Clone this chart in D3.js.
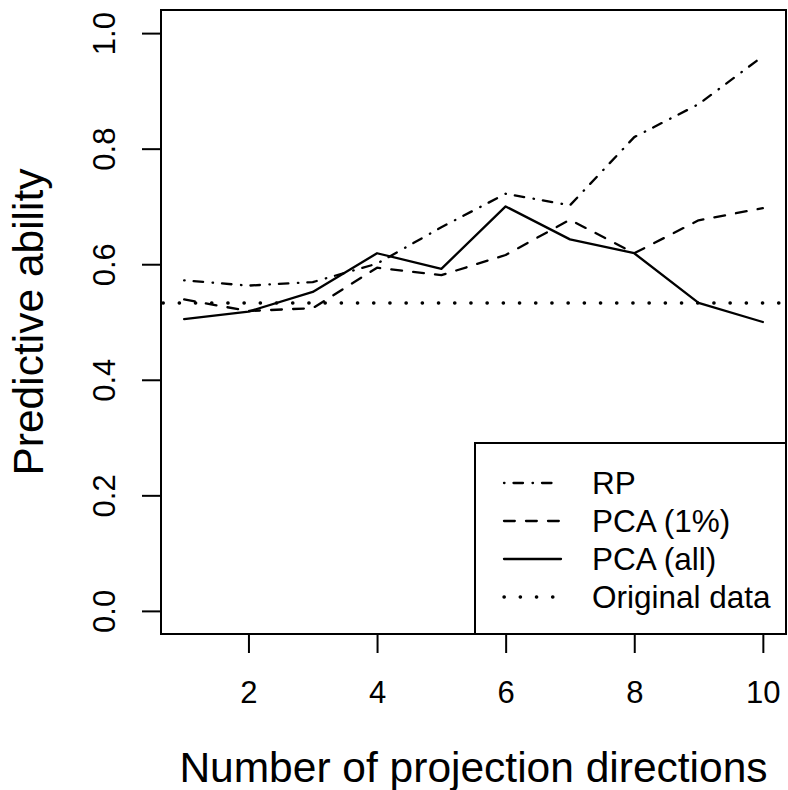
<!DOCTYPE html>
<html>
<head>
<meta charset="utf-8">
<script src="https://cdn.jsdelivr.net/npm/d3@7"></script>
<style>
  body { margin: 0; background: #fff; }
  text { font-family: "Liberation Sans", Arial, sans-serif; fill: #000; }
</style>
</head>
<body>
<div id="chart"></div>
<script>
// data
const directions = [1, 2, 3, 4, 5, 6, 7, 8, 9, 10];
const rpValues = [0.572, 0.563, 0.569, 0.601, 0.664, 0.722, 0.702, 0.820, 0.877, 0.960];
const pca1Values = [0.539, 0.519, 0.524, 0.594, 0.581, 0.616, 0.677, 0.619, 0.676, 0.697];
const pcaAllValues = [0.505, 0.518, 0.552, 0.619, 0.592, 0.700, 0.643, 0.619, 0.533, 0.500];
const originalValue = 0.533;
const xTicks = [2, 4, 6, 8, 10];
const yTicks = [0, 0.2, 0.4, 0.6, 0.8, 1.0];
const legendLabels = ['RP', 'PCA (1%)', 'PCA (all)', 'Original data'];

const W = 788, H = 790;
// plot box (window.top is reserved, so other names)
const boxL = 161, boxR = 786, boxT = 10, boxB = 634;

// line styles (dash patterns)
const dashRP = '0.5,9,9.5,9.5';
const dashPCA1 = '10.8,11.2';
const dashOrig = '0.3,15.9';
const lw = 2.3;
const lwDot = 3.4;

const svg = d3.select('#chart').append('svg')
    .attr('width', W)
    .attr('height', H);

const x = d3.scaleLinear().domain([0.64, 10.36]).range([boxL, boxR]);
const y = d3.scaleLinear().domain([-0.04, 1.04]).range([boxB, boxT]);

//x axis
const xAxis = svg.append('g')
    .attr('transform', `translate(0,${boxB})`)
    .call(d3.axisBottom(x).tickValues(xTicks).tickSize(19).tickFormat(d3.format('d')));
xAxis.select('.domain').remove();
xAxis.selectAll('line').attr('stroke', '#000').attr('stroke-width', 2);
xAxis.selectAll('text')
    .attr('y', 69)
    .attr('dy', null)
    .style('font-size', '31px')
    .attr('fill', '#000');

//y axis, labels rotated like R
const yAxis = svg.append('g')
    .attr('transform', `translate(${boxL},0)`)
    .call(d3.axisLeft(y).tickValues(yTicks).tickSize(19).tickFormat(d3.format('.1f')));
yAxis.select('.domain').remove();
yAxis.selectAll('line').attr('stroke', '#000').attr('stroke-width', 2);
yAxis.selectAll('text')
    .attr('x', null)
    .attr('dy', null)
    .attr('text-anchor', 'middle')
    .attr('transform', `translate(${115 - boxL},0) rotate(-90)`)
    .style('font-size', '31px')
    .attr('fill', '#000');

// axis titles
svg.append('text')
    .attr('x', (boxL + boxR) / 2)
    .attr('y', 782)
    .attr('text-anchor', 'middle')
    .style('font-size', '42.5px')
    .text('Number of projection directions');

svg.append('text')
    .attr('transform', `translate(43,${(boxT + boxB) / 2}) rotate(-90)`)
    .attr('text-anchor', 'middle')
    .style('font-size', '42.5px')
    .text('Predictive ability');

// plot area clip
svg.append('clipPath').attr('id', 'plotclip')
    .append('rect')
    .attr('x', boxL).attr('y', boxT)
    .attr('width', boxR - boxL).attr('height', boxB - boxT);

const plot = svg.append('g').attr('clip-path', 'url(#plotclip)');

const line = d3.line()
    .x((d, i) => x(directions[i]))
    .y(d => y(d));

const series = [
    { values: rpValues, dash: dashRP },
    { values: pca1Values, dash: dashPCA1 },
    { values: pcaAllValues, dash: null }
];

series.forEach(s => {
    plot.append('path')
        .attr('d', line(s.values))
        .attr('fill', 'none')
        .attr('stroke', '#000')
        .attr('stroke-width', lw)
        .attr('stroke-linecap', 'round')
        .attr('stroke-linejoin', 'round')
        .attr('stroke-dasharray', s.dash);
});

// horizontal line for original data
plot.append('line')
    .attr('x1', x.range()[0] + 2)
    .attr('x2', x.range()[1])
    .attr('y1', y(originalValue))
    .attr('y2', y(originalValue))
    .attr('stroke', '#000')
    .attr('stroke-width', lwDot)
    .attr('stroke-linecap', 'round')
    .attr('stroke-dasharray', dashOrig);

// box
svg.append('rect')
    .attr('x', boxL).attr('y', boxT)
    .attr('width', boxR - boxL).attr('height', boxB - boxT)
    .attr('fill', 'none')
    .attr('stroke', '#000')
    .attr('stroke-width', 2);

// legend
const legX = 475, legY = 443;
const legend = svg.append('g');
legend.append('rect')
    .attr('x', legX).attr('y', legY)
    .attr('width', boxR - legX).attr('height', boxB - legY)
    .attr('fill', '#fff')
    .attr('stroke', '#000')
    .attr('stroke-width', 2);

const legDash = [dashRP, dashPCA1, null, dashOrig];
const rowY = [483, 521, 559, 597];

legendLabels.forEach((label, i) => {
    legend.append('line')
        .attr('x1', 504).attr('x2', 561)
        .attr('y1', rowY[i]).attr('y2', rowY[i])
        .attr('stroke', '#000')
        .attr('stroke-width', i === 3 ? lwDot : lw)
        .attr('stroke-linecap', 'round')
        .attr('stroke-dasharray', legDash[i]);
    legend.append('text')
        .attr('x', 592)
        .attr('y', rowY[i] + 10.5)
        .style('font-size', '31.5px')
        .text(label);
});
</script>
</body>
</html>
